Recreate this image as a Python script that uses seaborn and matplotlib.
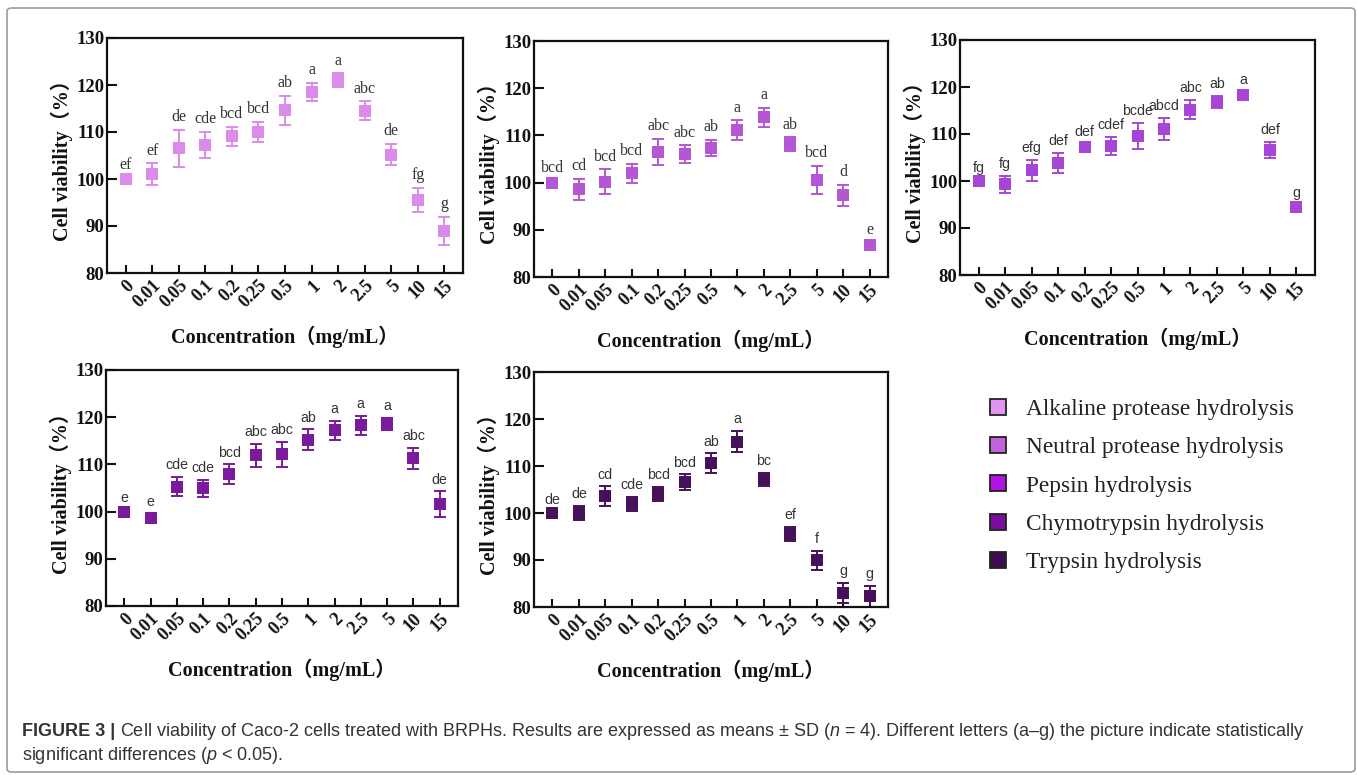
import numpy as np
import pandas as pd
import matplotlib
matplotlib.use("Agg")
import matplotlib.pyplot as plt
import seaborn as sns
from matplotlib.lines import Line2D
from matplotlib.patches import FancyBboxPatch

# concentrations on the x axis (mg/mL)
conc = ['0', '0.01', '0.05', '0.1', '0.2', '0.25', '0.5', '1', '2', '2.5', '5', '10', '15']

# mean cell viability (%) and SD for each hydrolysate
alk_mean = [100.0, 101.0, 106.5, 107.2, 109.1, 110.0, 114.6, 118.5, 121.0, 114.5, 105.2, 95.5, 88.9]
alk_sd = [0.3, 2.3, 4.0, 2.8, 2.0, 2.1, 3.1, 1.9, 1.5, 2.0, 2.3, 2.6, 3.0]
alk_let = ['ef', 'ef', 'de', 'cde', 'bcd', 'bcd', 'ab', 'a', 'a', 'abc', 'de', 'fg', 'g']

neu_mean = [100.0, 98.6, 100.2, 102.0, 106.5, 106.0, 107.4, 111.1, 113.8, 108.1, 100.5, 97.3, 86.8]
neu_sd = [0.3, 2.2, 2.6, 2.0, 2.7, 1.9, 1.7, 2.1, 2.0, 1.5, 3.0, 2.2, 0.5]
neu_let = ['bcd', 'cd', 'bcd', 'bcd', 'abc', 'abc', 'ab', 'a', 'a', 'ab', 'bcd', 'd', 'e']

pep_mean = [100.0, 99.3, 102.3, 103.9, 107.3, 107.5, 109.6, 111.1, 115.2, 116.8, 118.4, 106.6, 94.5]
pep_sd = [0.3, 1.8, 2.2, 2.1, 0.6, 1.9, 2.8, 2.4, 2.1, 1.3, 0.6, 1.7, 0.4]
pep_let = ['fg', 'fg', 'efg', 'def', 'def', 'cdef', 'bcde', 'abcd', 'abc', 'ab', 'a', 'def', 'g']

chy_mean = [100.0, 98.7, 105.3, 104.9, 107.9, 111.9, 112.1, 115.2, 117.2, 118.3, 118.5, 111.3, 101.6]
chy_sd = [0.3, 0.8, 2.1, 1.8, 2.1, 2.5, 2.6, 2.2, 2.0, 2.0, 1.3, 2.2, 2.7]
chy_let = ['e', 'e', 'cde', 'cde', 'bcd', 'abc', 'abc', 'ab', 'a', 'a', 'a', 'abc', 'de']

try_mean = [100.0, 100.0, 103.6, 101.9, 104.0, 106.6, 110.6, 115.2, 107.2, 95.5, 89.9, 83.0, 82.3]
try_sd = [0.3, 1.5, 2.1, 1.5, 1.5, 1.6, 2.1, 2.3, 1.4, 1.5, 2.1, 2.2, 2.2]
try_let = ['de', 'de', 'cd', 'cde', 'bcd', 'bcd', 'ab', 'a', 'bc', 'ef', 'f', 'g', 'g']

names = ['Alkaline protease hydrolysis', 'Neutral protease hydrolysis', 'Pepsin hydrolysis',
         'Chymotrypsin hydrolysis', 'Trypsin hydrolysis']
means = [alk_mean, neu_mean, pep_mean, chy_mean, try_mean]
sds = [alk_sd, neu_sd, pep_sd, chy_sd, try_sd]
letters = [alk_let, neu_let, pep_let, chy_let, try_let]

colors = ['#dc8aec', '#b557d4', '#a746d6', '#7a1a9c', '#47105a']
legend_colors = ['#e294f2', '#c262d8', '#b212e2', '#7c0ca0', '#3e0a52']

sns.set_theme(style='ticks')
plt.rcParams['font.family'] = ['Liberation Serif', 'Noto Sans CJK SC']
plt.rcParams['mathtext.fontset'] = 'custom'
plt.rcParams['mathtext.rm'] = 'Liberation Sans'
plt.rcParams['mathtext.it'] = 'Liberation Sans:italic'

W, H = 1357, 775
fig = plt.figure(figsize=(W / 100, H / 100), dpi=100)

# axes boxes in pixels: left, top, right, bottom
boxes = [(107, 38, 463, 273), (534, 41, 888, 277), (960, 40, 1315, 275),
         (106, 370, 458, 606), (534, 372, 888, 607)]
letter_fonts = ['Liberation Serif', 'Liberation Serif', 'Liberation Sans', 'Liberation Sans', 'Liberation Sans']

for k in range(5):
    l, t, r, b = boxes[k]
    ax = fig.add_axes([l / W, 1 - b / H, (r - l) / W, (b - t) / H])
    df = pd.DataFrame({'conc': conc, 'mean': means[k], 'sd': sds[k]})
    ax.errorbar(df['conc'], df['mean'], yerr=df['sd'], fmt='none', ecolor=colors[k],
                elinewidth=1.4, capsize=4, capthick=1.4, zorder=2)
    sns.scatterplot(data=df, x='conc', y='mean', marker='s', s=66, color=colors[k],
                    linewidth=0, ax=ax, zorder=3)
    for i, lab in enumerate(letters[k]):
        ax.text(i, means[k][i] + sds[k][i] + 1.0, lab, ha='center', va='bottom',
                fontsize=11.5 if k < 2 else 10.2, color='#333333', family=letter_fonts[k])
    ax.set_xlim(-0.7, 12.7)
    ax.set_ylim(80, 130)
    ax.set_yticks(np.arange(80, 131, 10))
    for side in ['top', 'right', 'left', 'bottom']:
        ax.spines[side].set_visible(True)
        ax.spines[side].set_linewidth(1.6)
        ax.spines[side].set_color('#111111')
    ax.tick_params(axis='x', direction='in', length=6, width=1.5, color='#111111', pad=3)
    ax.tick_params(axis='y', direction='in', length=7, width=1.5, color='#111111', pad=2)
    for lab in ax.get_xticklabels():
        lab.set_rotation(45)
        lab.set_ha('right')
        lab.set_va('top')
        lab.set_rotation_mode('anchor')
        lab.set_fontsize(13)
    for lab in ax.get_yticklabels():
        lab.set_fontsize(13.5)
    for lab in ax.get_xticklabels() + ax.get_yticklabels():
        lab.set_fontweight('bold')
        lab.set_color('#111111')
    ax.set_xlabel('Concentration（mg/mL）', fontsize=14.5, fontweight='bold', labelpad=10, color='#111111')
    ax.set_ylabel('Cell viability（%）', fontsize=14.5, fontweight='bold', labelpad=2, color='#111111')

handles = [Line2D([], [], marker='s', ls='', markersize=11.5, markerfacecolor=c,
                  markeredgecolor='#222222', markeredgewidth=1.3) for c in legend_colors]
fig.legend(handles, names, loc='upper left', bbox_to_anchor=(965 / W, 1 - 378 / H),
           frameon=False, fontsize=16.8, labelspacing=0.72, handletextpad=0.7,
           handlelength=1.0, labelcolor='#222222')

# figure border and caption
fig.patches.append(FancyBboxPatch((7 / W, 3 / H), 1348 / W, 764 / H, boxstyle='round,pad=0,rounding_size=0.004',
                                  transform=fig.transFigure, fill=False, edgecolor='#9a9a9a', linewidth=1.2))
cap_font = 'Liberation Sans'
cap_size = 13.0
t1 = fig.text(22 / W, 1 - 731 / H, 'FIGURE 3 |', fontsize=cap_size, fontweight='bold', family=cap_font,
              color='#333333', va='center', ha='left')
fig.canvas.draw()
bb = t1.get_window_extent(fig.canvas.get_renderer())
fig.text((bb.x1 + 5) / W, 1 - 731 / H,
         r'Cell viability of Caco-2 cells treated with BRPHs. Results are expressed as means ± SD ($n$ = 4). '
         'Different letters (a–g) the picture indicate statistically',
         fontsize=cap_size, family=cap_font, color='#333333', va='center', ha='left')
fig.text(22 / W, 1 - 755 / H, r'significant differences ($p$ < 0.05).', fontsize=cap_size, family=cap_font,
         color='#333333', va='center', ha='left')

fig.savefig('out.png', dpi=100)
